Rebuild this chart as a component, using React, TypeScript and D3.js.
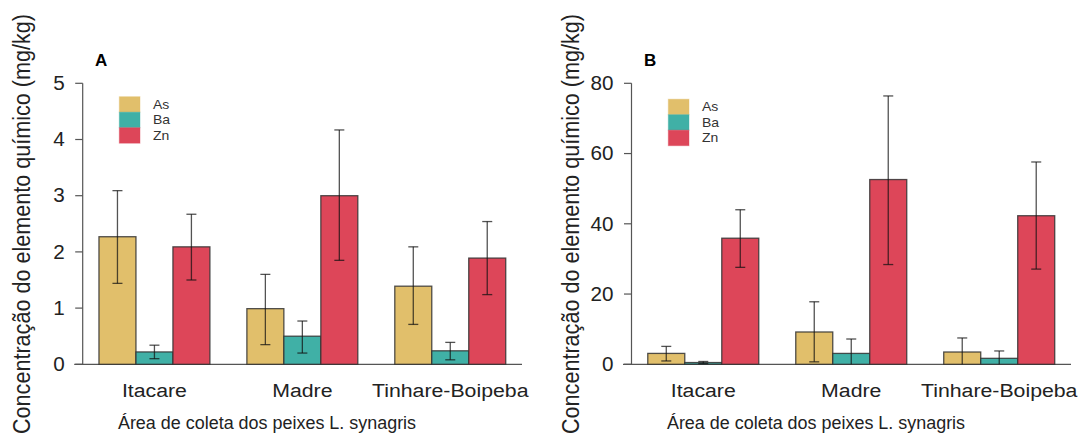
import React from "react";
import * as d3 from "d3";

const categories = ["Itacare", "Madre", "Tinhare-Boipeba"];
const elements = ["As", "Ba", "Zn"];
const colors = ["#E1BF6B", "#40B0A6", "#DD4659"];

// Panel A (mean, lower, upper) per element, per category
const aMeans = [
  [2.27, 0.99, 1.39],
  [0.22, 0.5, 0.24],
  [2.09, 3.0, 1.89],
];
const aLower = [
  [1.44, 0.35, 0.71],
  [0.1, 0.2, 0.08],
  [1.5, 1.85, 1.24],
];
const aUpper = [
  [3.09, 1.6, 2.09],
  [0.34, 0.77, 0.39],
  [2.67, 4.17, 2.54],
];
const aTicks = [0, 1, 2, 3, 4, 5];

// Panel B
const bMeans = [
  [3.1, 9.2, 3.5],
  [0.5, 3.1, 1.7],
  [35.9, 52.6, 42.3],
];
const bLower = [
  [0.95, 0.7, 0],
  [0.2, 0, 0],
  [27.6, 28.4, 27.1],
];
const bUpper = [
  [5.1, 17.8, 7.5],
  [0.8, 7.2, 3.8],
  [44.0, 76.4, 57.6],
];
const bTicks = [0, 20, 40, 60, 80];

const yTitle = "Concentração do elemento químico (mg/kg)";
const xTitle = "Área de coleta dos peixes L. synagris";
const FONT = "'Liberation Sans', Arial, sans-serif";

type PanelProps = {
  label: string;
  means: number[][];
  lower: number[][];
  upper: number[][];
  ticks: number[];
  yMax: number;
  x0: number;
  x1: number;
  offset: number;
};

function Panel({ label, means, lower, upper, ticks, yMax, x0, x1, offset }: PanelProps) {
  const x = d3.scaleLinear().domain([0.56, 12.44]).range([x0, x1]);
  const y = d3.scaleLinear().domain([0, yMax]).range([364.3, 83.3]);
  const unit = x(1) - x(0);
  const axisCol = "#555";
  const bars: React.ReactNode[] = [];
  const errs: React.ReactNode[] = [];
  categories.forEach((c, g) => {
    elements.forEach((e, j) => {
      const left = x(1 + g * 4 + j);
      const v = means[j][g];
      bars.push(
        <rect
          key={`b${g}${j}`}
          x={left}
          y={y(v)}
          width={unit}
          height={y(0) - y(v)}
          fill={colors[j]}
          stroke="#333"
          strokeOpacity={0.85}
          strokeWidth={1.3}
        />
      );
      const cx = left + unit / 2;
      const lo = y(Math.max(0, lower[j][g]));
      const hi = y(upper[j][g]);
      errs.push(
        <g key={`e${g}${j}`} stroke="#111" strokeOpacity={0.72} strokeWidth={1.3}>
          <line x1={cx} x2={cx} y1={lo} y2={hi} />
          <line x1={cx - 5} x2={cx + 5} y1={hi} y2={hi} />
          {lower[j][g] > 0 && <line x1={cx - 5} x2={cx + 5} y1={lo} y2={lo} />}
        </g>
      );
    });
  });
  return (
    <g>
      {/* baseline */}
      <line x1={x0 - 8.5} x2={x1} y1={y(0)} y2={y(0)} stroke={axisCol} strokeWidth={1.2} />
      {/* y axis */}
      <line x1={x0} x2={x0} y1={y(0)} y2={y(yMax)} stroke={axisCol} strokeWidth={1.2} />
      {ticks.map((t) => (
        <g key={t}>
          <line x1={x0 - 7.5} x2={x0} y1={y(t)} y2={y(t)} stroke={axisCol} strokeWidth={1.2} />
          <text
            transform={`translate(${x0 - 18},${y(t)}) scale(1.06,1)`}
            textAnchor="end"
            dominantBaseline="central"
            fontSize={19.5}
            fontFamily={FONT}
            fill="#222"
          >
            {t}
          </text>
        </g>
      ))}
      {bars}
      {errs}
      {/* category labels */}
      {categories.map((c, g) => (
        <text
          key={c}
          transform={`translate(${x(1 + g * 4 + 1.5)},396.5) scale(1.12,1)`}
          textAnchor="middle"
          fontSize={19}
          fontFamily={FONT}
          fill="#222"
        >
          {c}
        </text>
      ))}
      {/* x title */}
      <text
        transform={`translate(${267 + offset},429) scale(0.97,1)`}
        textAnchor="middle"
        fontSize={18.5}
        fontFamily={FONT}
        fill="#222"
      >
        {xTitle}
      </text>
      {/* y title */}
      <text
        transform={`translate(${30 + offset},224) scale(1.12,1) rotate(-90)`}
        textAnchor="middle"
        fontSize={21.6}
        fontFamily={FONT}
        fill="#222"
      >
        {yTitle}
      </text>
      {/* panel label */}
      <text x={95 + offset} y={65.7} fontSize={17} fontWeight="bold" fontFamily={FONT} fill="#000">
        {label}
      </text>
      {/* legend */}
      {elements.map((e, j) => (
        <g key={e}>
          <rect
            x={119.3 + offset}
            y={96.7 + j * 15.5 + (offset ? 2.5 : 0)}
            width={20.7}
            height={15.5}
            fill={colors[j]}
            stroke={colors[j]}
            strokeOpacity={0.4}
          />
          <text
            transform={`translate(${153 + offset},${96.7 + j * 15.5 + 7.75 + (offset ? 2.5 : 0)}) scale(1.12,1)`}
            dominantBaseline="central"
            fontSize={12.5}
            fontFamily={FONT}
            fill="#333"
          >
            {e}
          </text>
        </g>
      ))}
    </g>
  );
}

export default function App() {
  return (
    <svg
      width={1079}
      height={435}
      style={{ position: "absolute", left: 0, top: 0, background: "#fff" }}
    >
      <rect width={1079} height={435} fill="#fff" />
      <Panel
        label="A"
        means={aMeans}
        lower={aLower}
        upper={aUpper}
        ticks={aTicks}
        yMax={5}
        x0={82.7}
        x1={522}
        offset={0}
      />
      <Panel
        label="B"
        means={bMeans}
        lower={bLower}
        upper={bUpper}
        ticks={bTicks}
        yMax={80}
        x0={631.5}
        x1={1071}
        offset={549}
      />
    </svg>
  );
}
